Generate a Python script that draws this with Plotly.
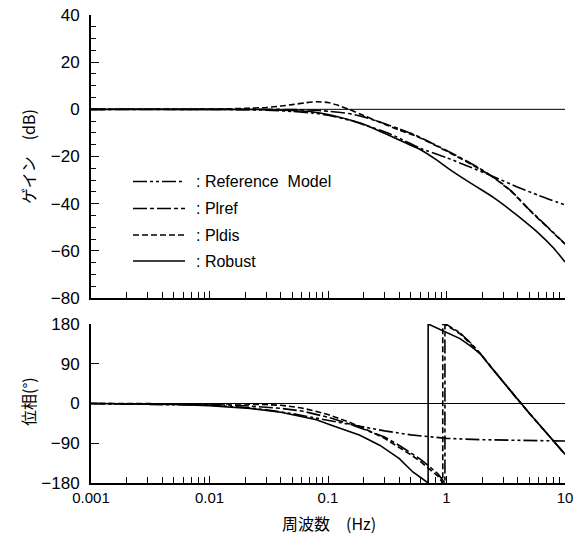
import plotly.graph_objects as go
from plotly.subplots import make_subplots

# ---------------- data ----------------
SERIES = ["Reference\u00a0\u00a0Model", "Plref", "Pldis", "Robust"]

# Gain (dB)
REF_F_GAIN = [0.001, 0.005, 0.01, 0.02, 0.03, 0.05, 0.075, 0.1, 0.15, 0.2, 0.32, 0.45, 0.6, 1.0, 1.5, 2.5, 4.0, 6.0, 10.0]
REF_GAIN = [0, 0, -0.05, -0.15, -0.35, -0.9, -1.6, -2.5, -4.5, -6.5, -10, -13.5, -16.5, -20.5, -24, -28.6, -33, -36.5, -40.5]

PLREF_F_GAIN = [0.001, 0.01, 0.02, 0.03, 0.05, 0.07, 0.1, 0.15, 0.2, 0.275, 0.4, 0.55, 0.8, 1.2, 1.9, 2.5, 3.5, 5.0, 7.0, 10.0]
PLREF_GAIN = [0, 0, 0, 0, -0.1, -0.3, -0.8, -1.8, -3.2, -5.4, -8.3, -11, -15, -19.5, -25, -28.8, -34.5, -42.5, -49.5, -57]

PLDIS_F_GAIN = [0.001, 0.01, 0.02, 0.03, 0.04, 0.05, 0.065, 0.08, 0.1, 0.12, 0.15, 0.2, 0.3, 0.4, 0.55, 0.8, 1.2, 1.9, 2.5, 3.5, 5.0, 7.0, 10.0]
PLDIS_GAIN = [0, 0.1, 0.4, 0.8, 1.4, 2.0, 2.8, 3.2, 2.9, 1.8, 0, -2.6, -6.3, -8.8, -11.3, -15.2, -19.8, -25.3, -29, -34.7, -42.7, -49.7, -57.2]

ROB_F_GAIN = [0.001, 0.01, 0.02, 0.03, 0.05, 0.075, 0.1, 0.15, 0.2, 0.32, 0.45, 0.6, 0.8, 1.1, 1.6, 2.0, 2.5, 3.0, 4.0, 6.0, 8.0, 10.0]
ROB_GAIN = [0, 0, -0.05, -0.15, -0.5, -1.1, -2.2, -4.4, -6.3, -10.8, -14.2, -17, -21, -26, -31.3, -34.3, -37.4, -40.3, -45.2, -52.6, -58.8, -64.7]

# Phase (deg)
REF_F_PHASE = [0.001, 0.005, 0.01, 0.02, 0.03, 0.05, 0.08, 0.1, 0.15, 0.2, 0.3, 0.5, 1.0, 2.0, 5.0, 10.0]
REF_PHASE = [0, -2, -4, -9, -14, -23, -33, -39, -47, -53, -62, -71, -79, -82, -84, -85]

PLREF_F_PHASE = [0.001, 0.01, 0.02, 0.04, 0.06, 0.08, 0.1, 0.15, 0.2, 0.3, 0.4, 0.5, 0.6, 0.72, 0.85, 0.97, 0.97, 1.0, 1.3, 1.6, 1.92, 2.5, 3.2, 4.0, 5.0, 7.0, 10.0]
PLREF_PHASE = [0, -2, -5, -11, -17, -24, -31, -46, -58, -76, -95, -111, -126, -143, -160, -180, 180, 179, 160, 137, 114, 76, 40, 8, -22, -67, -115]

PLDIS_F_PHASE = [0.001, 0.01, 0.02, 0.04, 0.06, 0.08, 0.1, 0.15, 0.2, 0.3, 0.4, 0.5, 0.6, 0.72, 0.85, 0.93, 0.93, 1.0, 1.3, 1.6, 1.92, 2.5, 3.2, 4.0, 5.0, 7.0, 10.0]
PLDIS_PHASE = [0, 0, -1, -4, -10, -18, -25, -42, -56, -79, -99, -116, -131, -148, -165, -180, 180, 177, 158, 135, 113, 75, 40, 8, -22, -67, -115]

ROB_F_PHASE = [0.001, 0.005, 0.01, 0.022, 0.04, 0.08, 0.104, 0.186, 0.275, 0.4, 0.52, 0.6, 0.7, 0.7, 0.8, 1.0, 1.3, 1.6, 1.92, 2.5, 3.2, 4.0, 5.0, 7.0, 10.0]
ROB_PHASE = [0, -2, -5, -11, -20, -37, -48, -72, -95, -125, -155, -168, -180, 180, 173, 162, 147, 130, 113, 75, 40, 8, -22, -67, -115]

X_TICKS = [0.001, 0.01, 0.1, 1, 10]
X_TICK_TEXT = ["0.001", "0.01", "0.1", "1", "10"]
GAIN_TICKS = [40, 20, 0, -20, -40, -60, -80]
PHASE_TICKS = [180, 90, 0, -90, -180]

# ---------------- styling ----------------
DASHES = ["14px,3px,3px,3px,3px,3px", "14px,3px,4px,3px", "6px,3px", "solid"]
LW = 1.6
NUM_FONT = "Arial, Liberation Sans, sans-serif"
JP_FONT = "Noto Sans CJK JP, sans-serif"

fig = make_subplots(rows=2, cols=1, shared_xaxes=False, vertical_spacing=0.0)

gain_data = [(REF_F_GAIN, REF_GAIN), (PLREF_F_GAIN, PLREF_GAIN), (PLDIS_F_GAIN, PLDIS_GAIN), (ROB_F_GAIN, ROB_GAIN)]
phase_data = [(REF_F_PHASE, REF_PHASE), (PLREF_F_PHASE, PLREF_PHASE), (PLDIS_F_PHASE, PLDIS_PHASE), (ROB_F_PHASE, ROB_PHASE)]

for name, dash, (fx, gy), (px_, py) in zip(SERIES, DASHES, gain_data, phase_data):
    fig.add_trace(go.Scatter(x=fx, y=gy, mode="lines", name=name, showlegend=False,
                             line=dict(color="black", width=LW, dash=dash, shape="spline", smoothing=0.6)),
                  row=1, col=1)
    fig.add_trace(go.Scatter(x=px_, y=py, mode="lines", name=name, showlegend=False,
                             line=dict(color="black", width=LW, dash=dash)),
                  row=2, col=1)

# layout geometry
W, H = 583, 540
ML, MR, MT, MB = 91, 18, 15, 57
plot_h = H - MT - MB
top_dom = [1 - (298 - 15) / plot_h, 1.0]
bot_dom = [0.0, (483 - 324) / plot_h]

minor_x = [m * 10 ** e for e in range(-3, 1) for m in range(2, 10)]

xcommon = dict(type="log", range=[-3, 1], showline=True, linecolor="black", linewidth=2,
               ticks="inside", ticklen=7, tickwidth=1.2, tickcolor="black",
               tickvals=X_TICKS, ticktext=X_TICK_TEXT, showgrid=False, zeroline=False, mirror=False,
               minor=dict(tickvals=minor_x, ticks="inside", ticklen=6, tickwidth=1, tickcolor="black", showgrid=False))

fig.update_xaxes(**xcommon)
fig.update_xaxes(showticklabels=False, row=1, col=1)
fig.update_xaxes(showticklabels=True, tickfont=dict(family=NUM_FONT, size=15, color="black"), row=2, col=1)

fig.update_yaxes(domain=top_dom, range=[-80, 40], tickvals=GAIN_TICKS, showline=True, linecolor="black", linewidth=2,
                 ticks="inside", ticklen=8, tickwidth=1.2, tickcolor="black", showgrid=False, zeroline=False,
                 tickfont=dict(family=NUM_FONT, size=17, color="black"), ticklabelstandoff=6,
                 minor=dict(dtick=5, ticks="inside", ticklen=5, tickwidth=1, tickcolor="black", showgrid=False),
                 row=1, col=1)
fig.update_yaxes(domain=bot_dom, range=[-180, 180], tickvals=PHASE_TICKS, showline=True, linecolor="black", linewidth=2,
                 ticks="inside", ticklen=8, tickwidth=1.2, tickcolor="black", showgrid=False, zeroline=False,
                 tickfont=dict(family=NUM_FONT, size=17, color="black"), ticklabelstandoff=6,
                 row=2, col=1)

# zero reference lines
fig.add_shape(type="line", xref="x domain", yref="y", x0=0, x1=1, y0=0, y1=0, line=dict(color="black", width=1))
fig.add_shape(type="line", xref="x2 domain", yref="y2", x0=0, x1=1, y0=0, y1=0, line=dict(color="black", width=1))

# legend (drawn inside the gain plot)
pw = W - ML - MR
def pxx(v):
    return (v - ML) / pw
def pyy(v):
    return (H - MB - v) / plot_h

leg_y = [181.5, 208.5, 235, 261]
for name, dash, yy in zip(SERIES, DASHES, leg_y):
    fig.add_shape(type="line", xref="paper", yref="paper", x0=pxx(133), x1=pxx(185), y0=pyy(yy), y1=pyy(yy),
                  line=dict(color="black", width=LW, dash=dash))
    fig.add_annotation(xref="paper", yref="paper", x=pxx(194), y=pyy(yy), text=":\u00a0" + name, showarrow=False,
                       xanchor="left", yanchor="middle", font=dict(family=NUM_FONT, size=16, color="black"))

# axis titles
fig.add_annotation(xref="paper", yref="paper", x=pxx(28), y=pyy(157), text="ゲイン\u3000(dB)", textangle=-90,
                   showarrow=False, xanchor="center", yanchor="middle", font=dict(family=JP_FONT, size=16, color="black"))
fig.add_annotation(xref="paper", yref="paper", x=pxx(28), y=pyy(402), text="位相(°)", textangle=-90,
                   showarrow=False, xanchor="center", yanchor="middle", font=dict(family=JP_FONT, size=16, color="black"))
fig.add_annotation(xref="paper", yref="paper", x=pxx(329), y=pyy(523), text="周波数\u3000(Hz)",
                   showarrow=False, xanchor="center", yanchor="middle", font=dict(family=JP_FONT, size=16, color="black"))

fig.update_layout(width=W, height=H, margin=dict(l=ML, r=MR, t=MT, b=MB, autoexpand=False),
                  paper_bgcolor="white", plot_bgcolor="white", showlegend=False)

fig.write_html("out.html")
